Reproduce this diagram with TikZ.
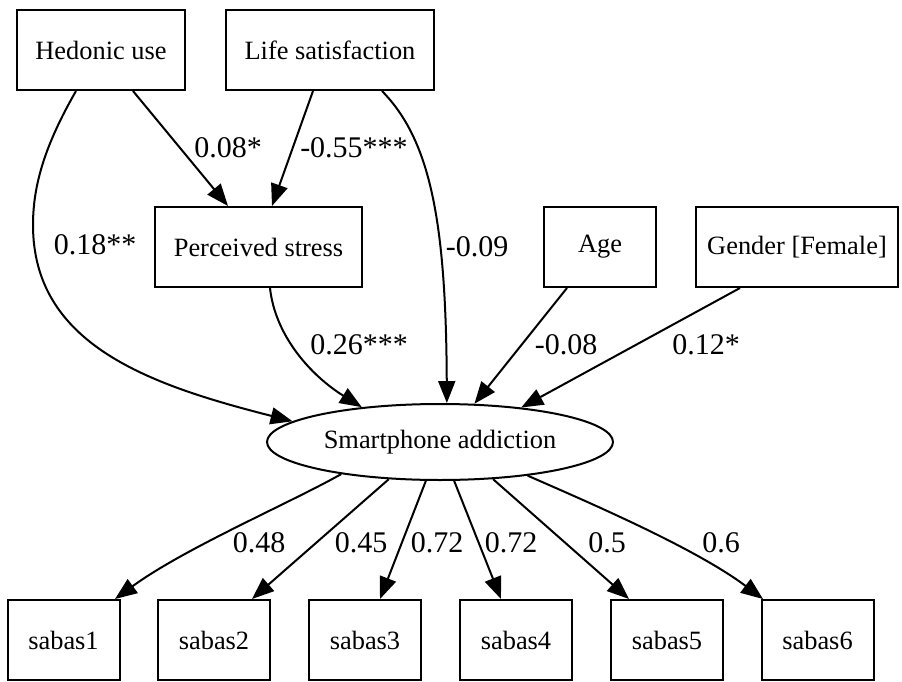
\documentclass[tikz,border=0pt]{standalone}
\usepackage{fontspec}
\setmainfont{Liberation Serif}
\usetikzlibrary{arrows.meta,shapes.geometric}

\tikzset{
  var/.style={draw, line width=2pt, rectangle, inner sep=0pt,
    minimum height=80pt, font=\fontsize{26.4}{30}\selectfont},
  latent/.style={draw, line width=2pt, ellipse, inner sep=0pt,
    minimum width=346pt, minimum height=76pt, font=\fontsize{26.4}{30}\selectfont},
  path/.style={line width=2pt, -{Triangle[length=22pt, width=17pt]}},
  coef/.style={inner sep=0pt, font=\fontsize{30}{34}\selectfont}
}

\begin{document}
\begin{tikzpicture}[x=1pt, y=-1pt]
\useasboundingbox (0,0) rectangle (902,682);

% exogenous predictors
\node[var, minimum width=168pt] (hed)    at (101,50)    {Hedonic use};
\node[var, minimum width=208pt] (life)   at (330,50)    {Life satisfaction};
\node[var, minimum width=207pt] (stress) at (258.5,247) {Perceived stress};
\node[var, minimum width=112pt] (age)    at (600,247)   {Age};
\node[var, minimum width=202pt] (gen)    at (797,247)   {Gender [Female]};

% latent factor
\node[latent] (sa) at (440,442) {Smartphone addiction};

% indicators
\foreach \i/\x in {1/63.5, 2/214, 3/365, 4/516, 5/667, 6/817.5}
  \node[var, minimum width=112pt] (s\i) at (\x,640) {sabas\i};

% structural paths
\draw[path] ([xshift=-25pt]hed.south) .. controls (45,145) and (33,185) .. (33,225)
  .. controls (33,345) and (150,385) .. (sa.172.8);
\draw[path] ([xshift=32pt]hed.south) -- ([xshift=-30.5pt]stress.north);
\draw[path] ([xshift=-17pt]life.south) -- ([xshift=13.5pt]stress.north);
\draw[path] ([xshift=52pt]life.south) .. controls (430,140) and (446,220) .. (sa.80.5);
\draw[path] ([xshift=11.5pt]stress.south) .. controls (275,335) and (310,375) .. (sa.156.2);
\draw[path] ([xshift=-33pt]age.south) -- (sa.48.4);
\draw[path] ([xshift=-57pt]gen.south) -- (sa.23.3);

% loadings
\draw[path] (sa.198.9) .. controls (290,503) and (185,548) .. ([xshift=51.5pt]s1.north);
\draw[path] (sa.216)   -- ([xshift=38pt]s2.north);
\draw[path] (sa.250.3) -- ([xshift=15pt]s3.north);
\draw[path] (sa.290.9) -- ([xshift=-15pt]s4.north);
\draw[path] (sa.325)   -- ([xshift=-38pt]s5.north);
\draw[path] (sa.339.6) .. controls (590,503) and (695,548) .. ([xshift=-54.5pt]s6.north);

% coefficients
\node[coef] (c1)  at (95,245)  {0.18**};
\node[coef] (c2)  at (228,148) {0.08*};
\node[coef] (c3)  at (354,148) {-0.55***};
\node[coef] (c4)  at (477,247) {-0.09};
\node[coef] (c5)  at (359,345) {0.26***};
\node[coef] (c6)  at (566,345) {-0.08};
\node[coef] (c7)  at (706,345) {0.12*};
\node[coef] (l1)  at (259,543) {0.48};
\node[coef] (l2)  at (361,543) {0.45};
\node[coef] (l3)  at (437,543) {0.72};
\node[coef] (l4)  at (511,543) {0.72};
\node[coef] (l5)  at (607,543) {0.5};
\node[coef] (l6)  at (721,543) {0.6};
\end{tikzpicture}
\end{document}
